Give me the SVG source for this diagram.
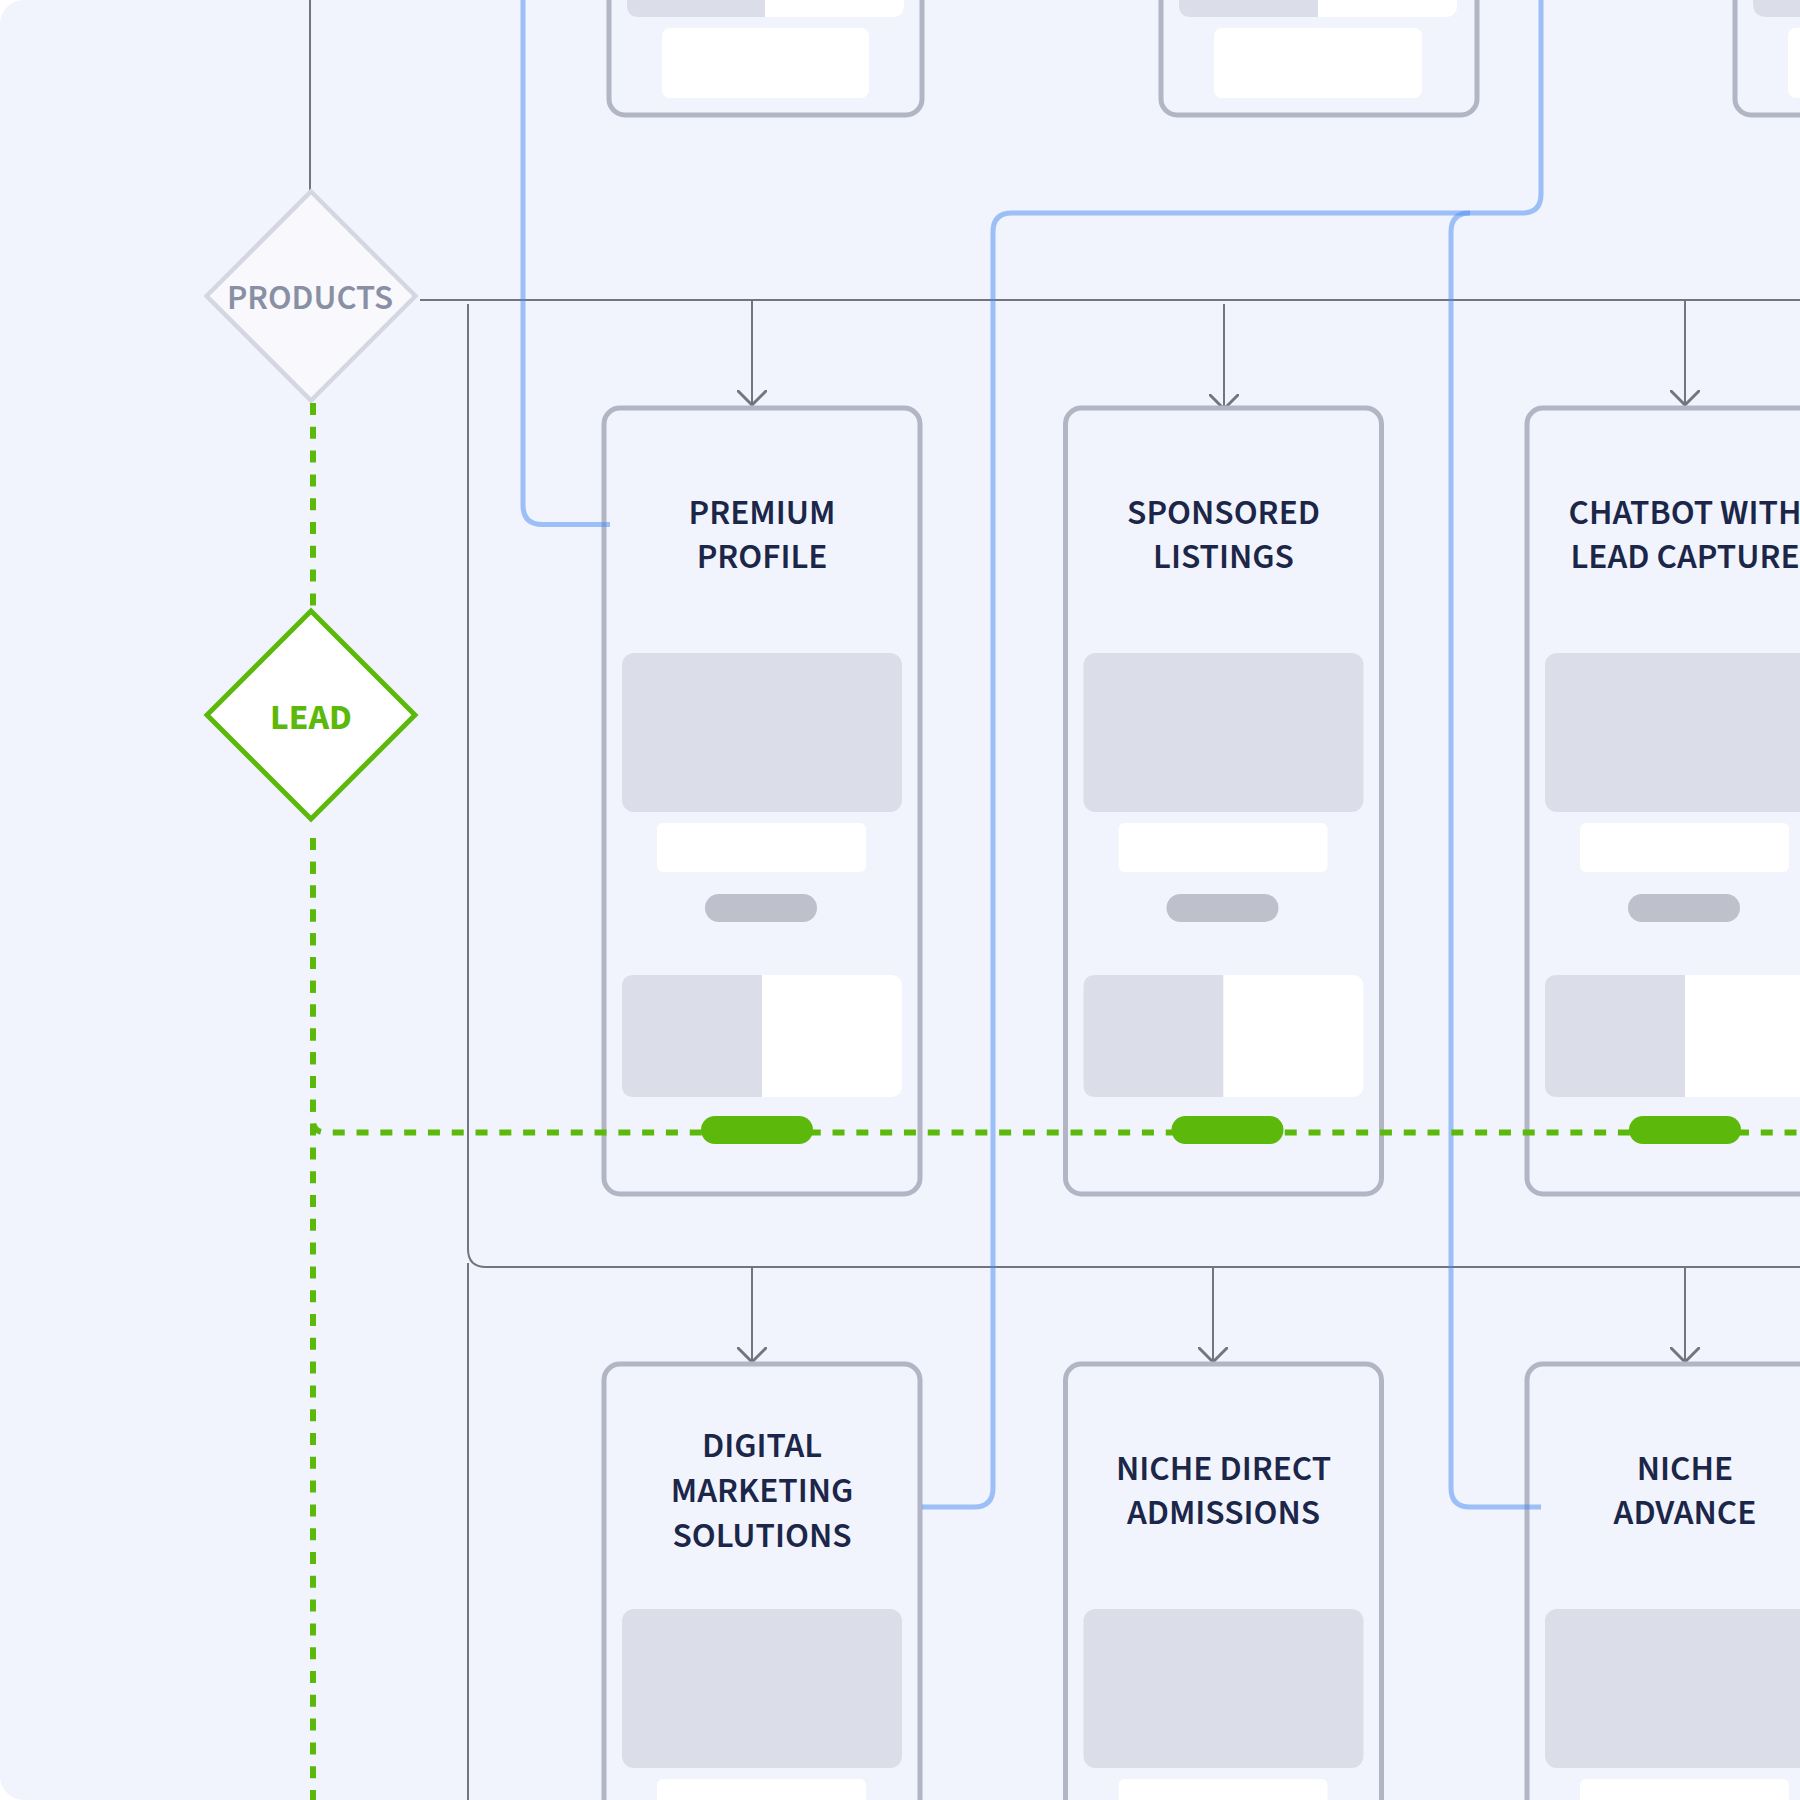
<svg xmlns="http://www.w3.org/2000/svg" width="1800" height="1800" viewBox="0 0 1800 1800">
<defs>
<style>
.bg{fill:#f1f4fd}
.frame{fill:#f1f4fd;stroke:#b1b5c4;stroke-width:5}
.ph{fill:#dbdde8}
.wh{fill:#ffffff}
.pill{fill:#bec0cc}
.go{fill:#5cb90b}
.title{font-family:"Source Sans Pro","Source Sans 3",Lato,"Noto Sans",sans-serif;font-size:35.5px;font-weight:600;fill:#1b2648;text-anchor:middle}
.conn{fill:none;stroke:#72757f;stroke-width:2}
.blue{fill:none;stroke:#4a8af4;stroke-opacity:0.5;stroke-width:5}
.green{fill:none;stroke:#5cb90b;stroke-width:6;stroke-dasharray:12 11.8}
</style>
<marker id="arrow" viewBox="0 0 30 30" refX="15" refY="15" markerWidth="30" markerHeight="30" markerUnits="userSpaceOnUse" orient="auto">
<path d="M1,1 L15,15 L1,29" fill="none" stroke="#72757f" stroke-width="3" stroke-linecap="round" stroke-linejoin="round"/>
</marker>
</defs>

<rect class="bg" x="0" y="0" width="1840" height="1800" rx="24"/>

<!-- top row cards (partially visible) -->
<g id="top-card-1">
<rect class="frame" x="609" y="-400" width="313" height="515" rx="16"/>
<path class="ph" d="M627,-10 V5 Q627,17 639,17 H765 V-10 Z"/>
<path class="wh" d="M765,-10 V17 H892 Q904,17 904,5 V-10 Z"/>
<rect class="wh" x="662" y="28" width="207" height="70" rx="8"/>
</g>
<g id="top-card-2">
<rect class="frame" x="1161" y="-400" width="316" height="515" rx="16"/>
<path class="ph" d="M1179,-10 V5 Q1179,17 1191,17 H1318 V-10 Z"/>
<path class="wh" d="M1318,-10 V17 H1445 Q1457,17 1457,5 V-10 Z"/>
<rect class="wh" x="1214" y="28" width="208" height="70" rx="8"/>
</g>
<g id="top-card-3">
<rect class="frame" x="1735" y="-400" width="316" height="515" rx="16"/>
<path class="ph" d="M1753,-10 V3 Q1753,17 1767,17 H1892 V-10 Z"/>
<rect class="wh" x="1788" y="28" width="208" height="70" rx="8"/>
</g>

<!-- connectors (gray) -->
<g id="connectors">
<line class="conn" x1="310" y1="0" x2="310" y2="190"/>
<line class="conn" x1="420" y1="300" x2="1800" y2="300"/>
<path class="conn" d="M468,304 V1249 Q468,1267 486,1267 H1800"/>
<line class="conn" x1="468" y1="1263" x2="468" y2="1800"/>
<line class="conn" x1="752" y1="300" x2="752" y2="405" marker-end="url(#arrow)"/>
<line class="conn" x1="1224" y1="304" x2="1224" y2="409" marker-end="url(#arrow)"/>
<line class="conn" x1="1685" y1="300" x2="1685" y2="405" marker-end="url(#arrow)"/>
<line class="conn" x1="752" y1="1267" x2="752" y2="1362" marker-end="url(#arrow)"/>
<line class="conn" x1="1213" y1="1267" x2="1213" y2="1362" marker-end="url(#arrow)"/>
<line class="conn" x1="1685" y1="1267" x2="1685" y2="1362" marker-end="url(#arrow)"/>
</g>

<!-- decision nodes -->
<g id="node-products">
<polygon points="311,191.5 415.5,296 311,400.5 206.5,296" fill="#f8f8fd" stroke="#d4d7e2" stroke-width="4.5"/>
<text x="310" y="309" font-family="'Source Sans Pro','Source Sans 3',Lato,'Noto Sans',sans-serif" font-size="35" font-weight="600" fill="#8a90a3" text-anchor="middle">PRODUCTS</text>
</g>
<g id="node-lead">
<polygon points="311,611 415,715 311,819 207,715" fill="#ffffff" stroke="#5cb90b" stroke-width="5"/>
<text x="311" y="729" font-family="'Source Sans Pro','Source Sans 3',Lato,'Noto Sans',sans-serif" font-size="36" font-weight="700" fill="#5cb90b" text-anchor="middle">LEAD</text>
</g>

<!-- row 1 cards -->
<g id="card-premium-profile" transform="translate(604,408)">
<rect class="frame" x="0" y="0" width="316" height="786" rx="16"/>
<text class="title" x="158" y="115.5">PREMIUM<tspan x="158" dy="44.5">PROFILE</tspan></text>
<rect class="ph" x="18" y="245" width="280" height="159" rx="12"/>
<rect class="wh" x="53" y="415" width="209" height="49" rx="6"/>
<rect class="pill" x="101" y="486" width="112" height="28" rx="14"/>
<path class="ph" d="M30,567 H158 V689 H30 Q18,689 18,677 V579 Q18,567 30,567 Z"/>
<path class="wh" d="M158,567 H286 Q298,567 298,579 V677 Q298,689 286,689 H158 Z"/>
<rect class="go" x="97" y="708" width="112" height="28" rx="14"/>
</g>
<g id="card-sponsored-listings" transform="translate(1065.5,408)">
<rect class="frame" x="0" y="0" width="316" height="786" rx="16"/>
<text class="title" x="158" y="115.5">SPONSORED<tspan x="158" dy="44.5">LISTINGS</tspan></text>
<rect class="ph" x="18" y="245" width="280" height="159" rx="12"/>
<rect class="wh" x="53" y="415" width="209" height="49" rx="6"/>
<rect class="pill" x="101" y="486" width="112" height="28" rx="14"/>
<path class="ph" d="M30,567 H158 V689 H30 Q18,689 18,677 V579 Q18,567 30,567 Z"/>
<path class="wh" d="M158,567 H286 Q298,567 298,579 V677 Q298,689 286,689 H158 Z"/>
<rect class="go" x="106" y="708" width="112" height="28" rx="14"/>
</g>
<g id="card-chatbot" transform="translate(1527,408)">
<rect class="frame" x="0" y="0" width="316" height="786" rx="16"/>
<text class="title" x="158" y="115.5">CHATBOT WITH<tspan x="158" dy="44.5">LEAD CAPTURE</tspan></text>
<rect class="ph" x="18" y="245" width="280" height="159" rx="12"/>
<rect class="wh" x="53" y="415" width="209" height="49" rx="6"/>
<rect class="pill" x="101" y="486" width="112" height="28" rx="14"/>
<path class="ph" d="M30,567 H158 V689 H30 Q18,689 18,677 V579 Q18,567 30,567 Z"/>
<path class="wh" d="M158,567 H286 Q298,567 298,579 V677 Q298,689 286,689 H158 Z"/>
<rect class="go" x="102" y="708" width="112" height="28" rx="14"/>
</g>

<!-- row 2 cards -->
<g id="card-digital-marketing" transform="translate(604,1364)">
<rect class="frame" x="0" y="0" width="316" height="800" rx="16"/>
<text class="title" x="158" y="93">DIGITAL<tspan x="158" dy="45">MARKETING</tspan><tspan x="158" dy="45">SOLUTIONS</tspan></text>
<rect class="ph" x="18" y="245" width="280" height="159" rx="12"/>
<rect class="wh" x="53" y="415" width="209" height="49" rx="6"/>
</g>
<g id="card-niche-direct" transform="translate(1065.5,1364)">
<rect class="frame" x="0" y="0" width="316" height="800" rx="16"/>
<text class="title" x="158" y="115.5">NICHE DIRECT<tspan x="158" dy="44.5">ADMISSIONS</tspan></text>
<rect class="ph" x="18" y="245" width="280" height="159" rx="12"/>
<rect class="wh" x="53" y="415" width="209" height="49" rx="6"/>
</g>
<g id="card-niche-advance" transform="translate(1527,1364)">
<rect class="frame" x="0" y="0" width="316" height="800" rx="16"/>
<text class="title" x="158" y="115.5">NICHE<tspan x="158" dy="44.5">ADVANCE</tspan></text>
<rect class="ph" x="18" y="245" width="280" height="159" rx="12"/>
<rect class="wh" x="53" y="415" width="209" height="49" rx="6"/>
</g>

<!-- blue and green connectors -->
<g id="links">
<path class="blue" d="M523,0 V505 Q523,524.5 542.5,524.5 H610"/>
<path class="blue" d="M1541,0 V194 Q1541,213 1522,213 H1012 Q993,213 993,232 V1488 Q993,1507 974,1507 H922"/>
<path class="blue" d="M1470,213 Q1451,213 1451,232 V1488 Q1451,1507 1470,1507 H1541"/>
<line class="green" x1="313" y1="403" x2="313" y2="611"/>
<line class="green" x1="313" y1="838" x2="313" y2="1800"/>
<path class="green" d="M313,838 V1120 Q313,1132.5 325.5,1132.5 H1800"/>
</g>
</svg>
